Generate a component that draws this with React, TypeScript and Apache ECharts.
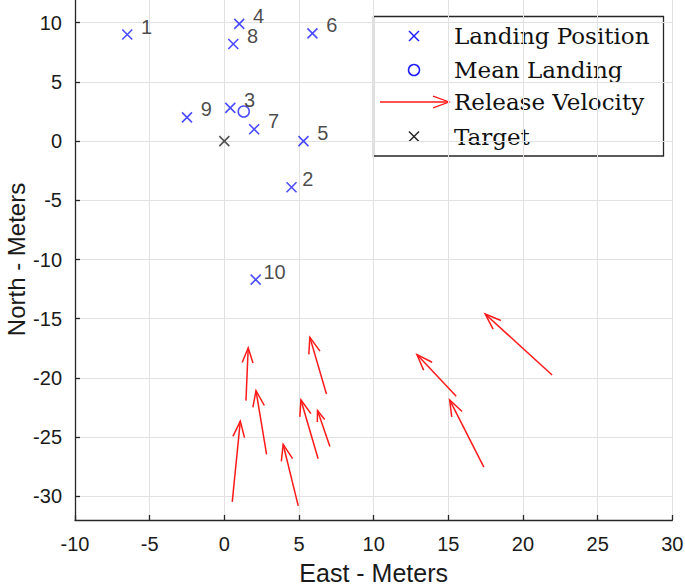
import React, { useEffect, useRef } from "react";
import * as echarts from "echarts";

// Landing positions (East, North) in meters
const landingX = [-6.5, 4.5, 0.4, 1.0, 5.3, 5.9, 2.0, 0.6, -2.5, 2.1];
const landingY = [9.0, -3.9, 2.8, 9.9, 0.0, 9.1, 1.0, 8.2, 2.0, -11.7];
const landingLabels = ["1", "2", "3", "4", "5", "6", "7", "8", "9", "10"];

const meanLanding = [1.3, 2.5];
const target = [0, 0];

// Release velocity arrows (origin and vector as drawn)
const arrowX = [0.53, 1.45, 2.83, 4.95, 6.84, 6.28, 7.07, 15.53, 17.38, 21.95];
const arrowY = [-30.47, -21.92, -26.46, -30.81, -21.36, -26.83, -25.79, -21.55, -27.53, -19.76];
const arrowU = [0.54, 0.15, -0.71, -1.01, -1.11, -1.15, -0.83, -2.63, -2.29, -4.48];
const arrowV = [6.82, 4.46, 5.38, 5.19, 4.78, 4.97, 3.03, 3.52, 5.67, 5.16];

const legendNames = ["Landing Position", "Mean Landing", "Release Velocity", "Target"];

const SANS = '"Liberation Sans", Arial, Helvetica, sans-serif';
const SERIF = '"DejaVu Serif", serif';
const AXIS_COLOR = "#262626";
const GRID_COLOR = "#e2e2e2";
const BLUE = "#1f1fff";
const RED = "#ff1a1a";
const CROSS = "path://M0,0L10,10M10,0L0,10";

export default function App() {
  const ref = useRef<HTMLDivElement>(null);

  useEffect(() => {
    if (!ref.current) return;
    const chart = echarts.init(ref.current, null, { renderer: "svg" });

    const labelDistance: Record<string, number> = { "10": 2, "2": 5 };

    const landingData = landingX.map((x, i) => ({
      value: [x, landingY[i]],
      name: landingLabels[i],
      label: {
        distance: labelDistance[landingLabels[i]] ?? 8,
      },
    }));

    const arrowData = arrowX.map((x, i) => [x, arrowY[i], arrowU[i], arrowV[i]]);

    const arrowShape = (p0: number[], p1: number[], color: string, lw: number) => {
      const dx = p1[0] - p0[0];
      const dy = p1[1] - p0[1];
      const len = Math.sqrt(dx * dx + dy * dy) || 1;
      const ux = dx / len;
      const uy = dy / len;
      const head = Math.min(0.3 * len, 17);
      const a = (20 * Math.PI) / 180;
      const ca = Math.cos(a);
      const sa = Math.sin(a);
      const w1 = [p1[0] - head * (ux * ca - uy * sa), p1[1] - head * (uy * ca + ux * sa)];
      const w2 = [p1[0] - head * (ux * ca + uy * sa), p1[1] - head * (uy * ca - ux * sa)];
      return [
        {
          type: "line",
          shape: { x1: p0[0], y1: p0[1], x2: p1[0], y2: p1[1] },
          style: { stroke: color, lineWidth: lw },
        },
        {
          type: "polyline",
          shape: { points: [w1, p1, w2] },
          style: { stroke: color, fill: "none", lineWidth: lw },
        },
      ];
    };

    // Legend layout (pixels)
    const lgX = 373.5;
    const lgY = 16.5;
    const lgW = 290;
    const lgH = 139.5;
    const rowY = [36, 70, 102, 136.5];
    const iconX = 414;
    const textX = 454;

    const crossLines = (cx: number, cy: number, color: string) => [
      {
        type: "line",
        shape: { x1: cx - 5, y1: cy - 5, x2: cx + 5, y2: cy + 5 },
        style: { stroke: color, lineWidth: 1.5 },
      },
      {
        type: "line",
        shape: { x1: cx - 5, y1: cy + 5, x2: cx + 5, y2: cy - 5 },
        style: { stroke: color, lineWidth: 1.5 },
      },
    ];

    const legendGraphic = {
      type: "group",
      z: 100,
      children: [
        {
          type: "rect",
          shape: { x: lgX, y: lgY, width: lgW, height: lgH },
          style: { fill: "#ffffff", stroke: AXIS_COLOR, lineWidth: 1.3 },
        },
        ...crossLines(iconX, rowY[0], BLUE),
        {
          type: "circle",
          shape: { cx: iconX, cy: rowY[1], r: 5.5 },
          style: { fill: "none", stroke: BLUE, lineWidth: 1.5 },
        },
        ...arrowShape([380, rowY[2]], [449, rowY[2]], RED, 1.3),
        ...crossLines(iconX, rowY[3], AXIS_COLOR),
        ...legendNames.map((name, i) => ({
          type: "text",
          x: textX,
          y: rowY[i],
          style: {
            text: name,
            fill: "#111111",
            fontFamily: SERIF,
            fontSize: 23,
            verticalAlign: "middle",
            align: "left",
          },
        })),
      ],
    };

    const option = {
      animation: false,
      backgroundColor: "#ffffff",
      grid: {
        left: 75,
        right: 12.7,
        top: -1,
        bottom: 65,
        containLabel: false,
        outerBoundsMode: "none",
      },
      xAxis: {
        type: "value",
        min: -10,
        max: 30,
        interval: 5,
        name: "East - Meters",
        nameLocation: "middle",
        nameGap: 40,
        nameMoveOverlap: false,
        nameTextStyle: { fontFamily: SANS, fontSize: 25, color: "#1a1a1a" },
        axisLine: { show: true, onZero: false, lineStyle: { color: AXIS_COLOR, width: 1.3 } },
        axisTick: { show: true, inside: true, length: 5, lineStyle: { color: AXIS_COLOR, width: 1.3 } },
        axisLabel: { fontFamily: SANS, fontSize: 20, color: "#1a1a1a", margin: 14 },
        splitLine: { show: true, lineStyle: { color: GRID_COLOR, width: 1 } },
      },
      yAxis: {
        type: "value",
        min: -32,
        max: 12,
        splitNumber: 9,
        name: "North - Meters",
        nameLocation: "middle",
        nameGap: 47,
        nameMoveOverlap: false,
        nameTextStyle: { fontFamily: SANS, fontSize: 24, color: "#1a1a1a", lineHeight: 24 },
        axisLine: { show: true, onZero: false, lineStyle: { color: AXIS_COLOR, width: 1.3 } },
        axisTick: { show: true, inside: true, length: 5, lineStyle: { color: AXIS_COLOR, width: 1.3 } },
        axisLabel: {
          fontFamily: SANS,
          fontSize: 20,
          color: "#1a1a1a",
          margin: 13,
          showMinLabel: false,
          showMaxLabel: false,
        },
        splitLine: { show: true, lineStyle: { color: GRID_COLOR, width: 1 } },
      },
      series: [
        {
          name: "Release Velocity",
          type: "custom",
          dimensions: ["x", "y", "u", "v"],
          encode: { x: 0, y: 1 },
          data: arrowData,
          z: 3,
          renderItem: (_params: any, api: any) => {
            const x = api.value(0);
            const y = api.value(1);
            const u = api.value(2);
            const v = api.value(3);
            const p0 = api.coord([x, y]);
            const p1 = api.coord([x + u, y + v]);
            return { type: "group", children: arrowShape(p0, p1, RED, 1.5) };
          },
        },
        {
          name: "Landing Position",
          type: "scatter",
          symbol: CROSS,
          symbolSize: 10,
          data: landingData,
          z: 5,
          itemStyle: { color: "rgba(0,0,0,0)", borderColor: BLUE, borderWidth: 1.6 },
          label: {
            show: true,
            position: "right",
            formatter: (p: any) => p.name,
            fontFamily: SANS,
            fontSize: 20,
            color: "#1a1a1a",
            offset: [0, -8],
          },
        },
        {
          name: "Mean Landing",
          type: "scatter",
          symbol: "circle",
          symbolSize: 11,
          data: [meanLanding],
          z: 5,
          itemStyle: { color: "rgba(0,0,0,0)", borderColor: BLUE, borderWidth: 1.5 },
        },
        {
          name: "Target",
          type: "scatter",
          symbol: CROSS,
          symbolSize: 10,
          data: [target],
          z: 5,
          itemStyle: { color: "rgba(0,0,0,0)", borderColor: AXIS_COLOR, borderWidth: 1.6 },
        },
      ],
      graphic: [legendGraphic],
    };

    chart.setOption(option as any);
    return () => chart.dispose();
  }, []);

  return (
    <div
      ref={ref}
      style={{ position: "fixed", left: 0, top: 0, width: 685, height: 585, background: "#fff" }}
    />
  );
}
